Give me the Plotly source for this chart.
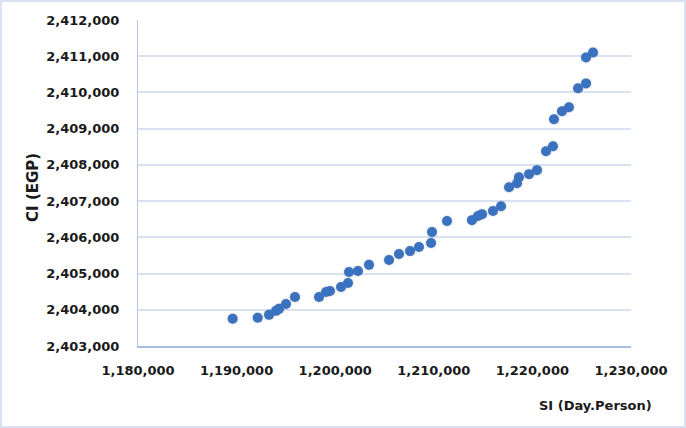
import plotly.graph_objects as go

# SI (Day.Person)
si_values = [
    1189600, 1192140, 1193290, 1194000, 1194300, 1195010, 1195920, 1198360,
    1199070, 1199470, 1200590, 1201300, 1201400, 1202310, 1203430, 1205460,
    1206470, 1207590, 1208500, 1209720, 1209820, 1211340, 1213870, 1214480,
    1214890, 1216000, 1216820, 1217630, 1218440, 1218640, 1219660, 1220470,
    1221380, 1222090, 1222190, 1223000, 1223710, 1224630, 1225440, 1225440,
    1226150,
]
# CI (EGP)
ci_values = [
    2403750, 2403780, 2403860, 2403970, 2404025, 2404160, 2404355, 2404355,
    2404490, 2404520, 2404630, 2404740, 2405045, 2405070, 2405240, 2405375,
    2405540, 2405620, 2405735, 2405845, 2406145, 2406450, 2406475, 2406590,
    2406640, 2406725, 2406860, 2407385, 2407495, 2407660, 2407745, 2407855,
    2408375, 2408515, 2409260, 2409480, 2409590, 2410115, 2410250, 2410965,
    2411105,
]

x_range = [1180000, 1230000]
x_step = 10000
y_range = [2403000, 2412000]
y_step = 1000

x_title = "SI (Day.Person)"
y_title = "CI (EGP)"

FONT = "DejaVu Sans"
TEXT_COLOR = "#1a1a1a"
MARKER_COLOR = "#3a72c0"

fig = go.Figure()
fig.add_trace(go.Scatter(
    x=si_values, y=ci_values, mode="markers",
    marker=dict(size=12, color="rgba(60,60,60,0.10)", line=dict(width=0)),
    hoverinfo="skip", showlegend=False,
))
fig.add_trace(go.Scatter(
    x=si_values, y=ci_values, mode="markers",
    marker=dict(size=10, color=MARKER_COLOR, line=dict(width=0)),
    showlegend=False,
))

fig.update_layout(
    width=686, height=428,
    margin=dict(l=138, r=55, t=20, b=82),
    paper_bgcolor="white", plot_bgcolor="white",
    font=dict(family=FONT, size=13, color=TEXT_COLOR),
    showlegend=False,
)

fig.update_xaxes(
    range=x_range, dtick=x_step, tick0=x_range[0], tickformat=",d",
    showgrid=False, zeroline=False,
    showline=True, linecolor="#a9bfe3", linewidth=1.5,
    ticks="", ticklabelstandoff=12,
    tickfont=dict(family=FONT, size=13, color=TEXT_COLOR, weight="bold"),
)
fig.update_yaxes(
    range=y_range, dtick=y_step, tick0=y_range[0], tickformat=",d",
    showgrid=True, gridcolor="#d9e2f3", gridwidth=1.5, zeroline=False,
    showline=True, linecolor="#b4c7e7", linewidth=1,
    ticks="", ticklabelstandoff=15,
    tickfont=dict(family=FONT, size=13, color=TEXT_COLOR, weight="bold"),
)

fig.add_annotation(
    text=y_title, xref="paper", yref="paper", x=-0.213, y=0.488,
    textangle=-90, showarrow=False, xanchor="center", yanchor="middle",
    font=dict(family=FONT, size=15, color=TEXT_COLOR, weight="bold"),
)
fig.add_annotation(
    text=x_title, xref="paper", yref="paper", x=0.929, y=-0.181,
    showarrow=False, xanchor="center", yanchor="middle",
    font=dict(family=FONT, size=13, color=TEXT_COLOR, weight="bold"),
)

fig.add_shape(
    type="rect", xref="paper", yref="paper",
    x0=-0.2779, x1=1.1095, y0=-0.2485, y1=1.0583,
    line=dict(color="#d9e2f3", width=2), fillcolor="rgba(0,0,0,0)", layer="below",
)

fig.write_html(
    "out.html",
    config={"displayModeBar": False},
    post_script="document.body.style.margin='0px';document.body.style.padding='0px';",
)
